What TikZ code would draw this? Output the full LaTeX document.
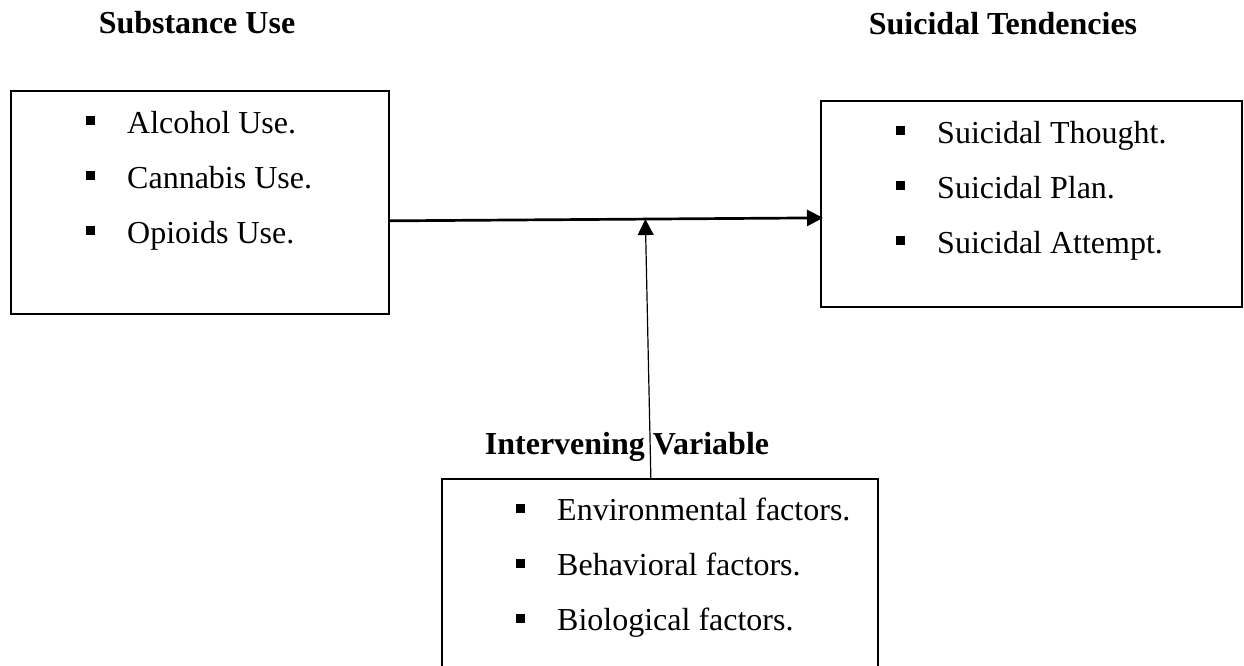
\documentclass[tikz,border=0pt]{standalone}
\usepackage{fontspec}
\setmainfont{Liberation Serif}
\usepackage{tikz}
\usetikzlibrary{arrows.meta, positioning, calc}

\newcommand{\sqbul}{\rule[8pt]{9pt}{9pt}\hspace{32pt}}

\begin{document}
\begin{tikzpicture}[
  x=1pt, y=-1pt,
  varbox/.style={rectangle, draw=black, line width=1.7pt,
    anchor=north west, inner sep=0pt},
  itemlist/.style={anchor=north west, align=left, inner sep=0pt,
    font=\fontsize{32}{55}\selectfont},
  heading/.style={anchor=base, font=\fontsize{32}{38}\selectfont\bfseries},
  arr/.style={-{Triangle[length=16pt, width=16pt]}, line width=2.7pt},
  varr/.style={-{Triangle[length=16pt, width=16pt]}, line width=1.2pt}
]
\clip (0,0) rectangle (1244,666);

%% ==== Boxes ====
\node[varbox, minimum width=378pt, minimum height=223pt] (sub) at (10,90) {};
\node[varbox, minimum width=421pt, minimum height=206pt] (sui) at (820,100) {};
\node[varbox, minimum width=436pt, minimum height=230pt] (inv) at (441,478) {};

%% ==== Headings ====
\node[heading] (subT) at (197,34) {Substance Use};
\node[heading] (suiT) at (1003,35) {Suicidal Tendencies};
\node[heading] (invT) at (627,454) {Intervening Variable};

%% ==== Item lists ====
\node[itemlist] (subL) at ([xshift=76pt, yshift=-21pt]sub.north west)
  {\sqbul Alcohol Use.\\ \sqbul Cannabis Use.\\ \sqbul Opioids Use.};
\node[itemlist] (suiL) at ([xshift=76pt, yshift=-21pt]sui.north west)
  {\sqbul Suicidal Thought.\\ \sqbul Suicidal Plan.\\ \sqbul Suicidal Attempt.};
\node[itemlist] (invL) at ([xshift=75pt, yshift=-20pt]inv.north west)
  {\sqbul Environmental factors.\\ \sqbul Behavioral factors.\\ \sqbul Biological factors.};

%% ==== Arrows ====
\draw[arr] ([yshift=-18.5pt]sub.east) -- ([xshift=3pt, yshift=-14pt]sui.west)
  coordinate[pos=0.59] (meet);
\draw[varr] ([xshift=-9pt]inv.north) -- (meet);

\end{tikzpicture}
\end{document}
